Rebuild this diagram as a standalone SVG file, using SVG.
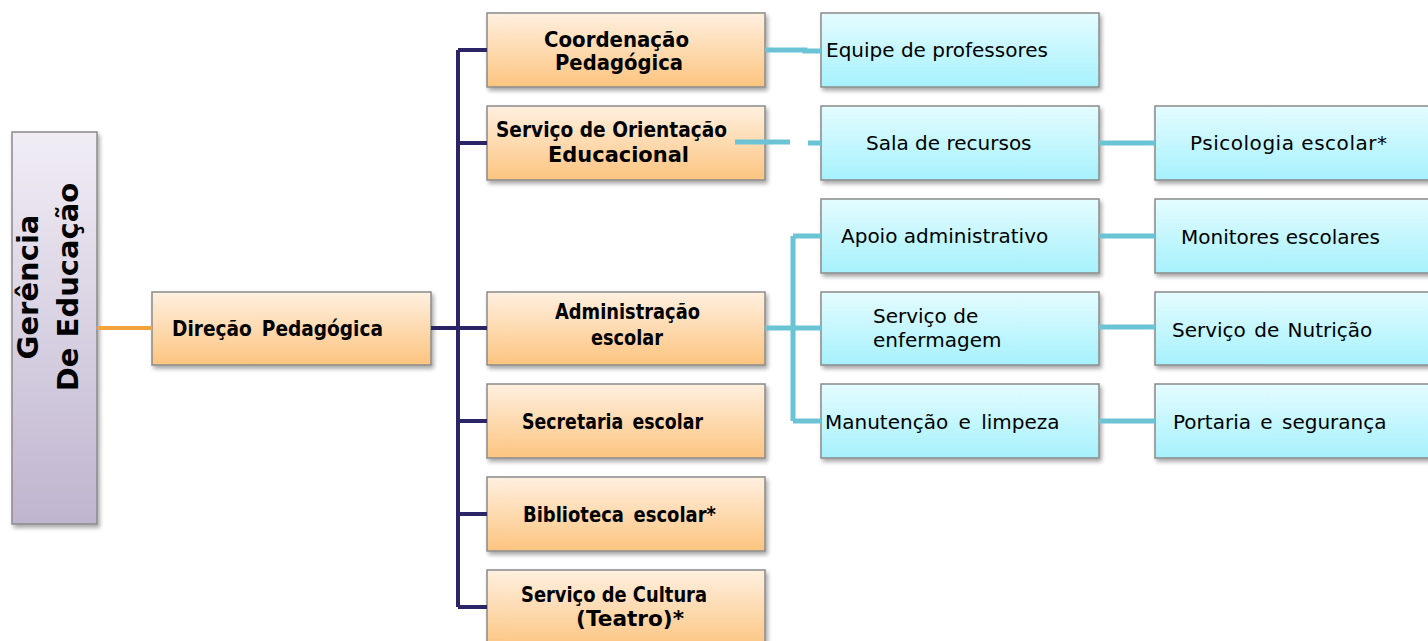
<svg xmlns="http://www.w3.org/2000/svg" width="1428" height="641" viewBox="0 0 1428 641">
<defs>
<linearGradient id="gPurple" x1="0" y1="0" x2="0" y2="1"><stop offset="0" stop-color="#f1edf5"/><stop offset="1" stop-color="#bfb5cf"/></linearGradient>
<linearGradient id="gOrange" x1="0" y1="0" x2="0" y2="1"><stop offset="0" stop-color="#fff0e0"/><stop offset="1" stop-color="#fcc47f"/></linearGradient>
<linearGradient id="gCyan" x1="0" y1="0" x2="0" y2="1"><stop offset="0" stop-color="#e4fcff"/><stop offset="1" stop-color="#a6f1fc"/></linearGradient>
<filter id="sh" x="-10%" y="-10%" width="130%" height="130%"><feDropShadow dx="2" dy="3" stdDeviation="2" flood-color="#000" flood-opacity="0.35"/></filter>
</defs>
<style>
.box{stroke:#8a8a8a;stroke-width:1.5;filter:url(#sh)}
.pu{fill:url(#gPurple)}
.or{fill:url(#gOrange)}
.cy{fill:url(#gCyan)}
.b{font-family:"DejaVu Sans","Liberation Sans",sans-serif;font-weight:bold;font-size:21px;fill:#000}
.r{font-family:"DejaVu Sans","Liberation Sans",sans-serif;font-size:20px;fill:#000}
.big{font-family:"DejaVu Sans","Liberation Sans",sans-serif;font-weight:bold;font-size:29px;fill:#000}
.navy{stroke:#2b2466;stroke-width:4;fill:none}
.cl{stroke:#6bc3d6;stroke-width:5;fill:none}
.ol{stroke:#f4a23a;stroke-width:4;fill:none}
</style>
<rect width="1428" height="641" fill="#fff"/>
<g id="gerencia">
<rect class="box pu" x="12" y="132" width="85" height="392"/>
<text class="big" transform="translate(38,287) rotate(-90)" text-anchor="middle">Gerência</text>
<text class="big" transform="translate(78,287) rotate(-90)" text-anchor="middle">De Educação</text>
</g>
<g id="direcao">
<rect class="box or" x="152" y="292" width="279" height="73"/>
<text class="b" x="172" y="336" textLength="211" lengthAdjust="spacingAndGlyphs" word-spacing="4">Direção Pedagógica</text>
</g>
<g id="coordenacao">
<rect class="box or" x="487" y="13" width="278" height="74"/>
<text class="b" x="544" y="47" textLength="145" lengthAdjust="spacingAndGlyphs">Coordenação</text>
<text class="b" x="555" y="70" textLength="128" lengthAdjust="spacingAndGlyphs">Pedagógica</text>
</g>
<g id="soe">
<rect class="box or" x="487" y="106" width="278" height="74"/>
<text class="b" x="496" y="137" textLength="231" lengthAdjust="spacingAndGlyphs">Serviço de Orientação</text>
<text class="b" x="548" y="162" textLength="141" lengthAdjust="spacingAndGlyphs">Educacional</text>
</g>
<g id="administracao">
<rect class="box or" x="487" y="292" width="278" height="73"/>
<text class="b" x="555" y="319" textLength="145" lengthAdjust="spacingAndGlyphs">Administração</text>
<text class="b" x="591" y="345" textLength="72" lengthAdjust="spacingAndGlyphs">escolar</text>
</g>
<g id="secretaria">
<rect class="box or" x="487" y="384" width="278" height="74"/>
<text class="b" x="522" y="429" textLength="181" lengthAdjust="spacingAndGlyphs" word-spacing="4">Secretaria escolar</text>
</g>
<g id="biblioteca">
<rect class="box or" x="487" y="477" width="278" height="74"/>
<text class="b" x="523" y="522" textLength="193" lengthAdjust="spacingAndGlyphs" word-spacing="4">Biblioteca escolar*</text>
</g>
<g id="cultura">
<rect class="box or" x="487" y="570" width="278" height="80"/>
<text class="b" x="521" y="602" textLength="186" lengthAdjust="spacingAndGlyphs">Serviço de Cultura</text>
<text class="b" x="576" y="626" textLength="108" lengthAdjust="spacingAndGlyphs">(Teatro)*</text>
</g>
<g id="equipe">
<rect class="box cy" x="821" y="13" width="278" height="74"/>
<text class="r" x="826" y="57">Equipe de professores</text>
</g>
<g id="sala">
<rect class="box cy" x="821" y="106" width="278" height="74"/>
<text class="r" x="866" y="150">Sala de recursos</text>
</g>
<g id="apoio">
<rect class="box cy" x="821" y="199" width="278" height="74"/>
<text class="r" x="841" y="243">Apoio administrativo</text>
</g>
<g id="enfermagem">
<rect class="box cy" x="821" y="292" width="278" height="73"/>
<text class="r" x="873" y="323">Serviço de</text>
<text class="r" x="873" y="347">enfermagem</text>
</g>
<g id="manutencao">
<rect class="box cy" x="821" y="384" width="278" height="74"/>
<text class="r" x="825" y="429" word-spacing="4">Manutenção e limpeza</text>
</g>
<g id="psicologia">
<rect class="box cy" x="1155" y="106" width="280" height="74"/>
<text class="r" x="1190" y="150" textLength="197">Psicologia escolar*</text>
</g>
<g id="monitores">
<rect class="box cy" x="1155" y="199" width="280" height="74"/>
<text class="r" x="1181" y="244">Monitores escolares</text>
</g>
<g id="nutricao">
<rect class="box cy" x="1155" y="292" width="280" height="73"/>
<text class="r" x="1172" y="337" word-spacing="2">Serviço de Nutrição</text>
</g>
<g id="portaria">
<rect class="box cy" x="1155" y="384" width="280" height="74"/>
<text class="r" x="1173" y="429" word-spacing="3">Portaria e segurança</text>
</g>
<g id="connectors">
<line class="ol" x1="97" y1="328" x2="152" y2="328"/>
<path class="navy" d="M431 328H487M458 50V607M458 50H487M458 143H487M458 421H487M458 514H487M458 607H487"/>
<path class="cl" d="M765 50H805V51H821"/>
<path class="cl" d="M735 142H790M808 143H821"/>
<path class="cl" d="M1099 143H1155M1099 236H1155M1099 327H1155M1099 421H1155"/>
<path class="cl" d="M765 328H821M793 236V421M793 236H821M793 421H821"/>
</g>
</svg>
